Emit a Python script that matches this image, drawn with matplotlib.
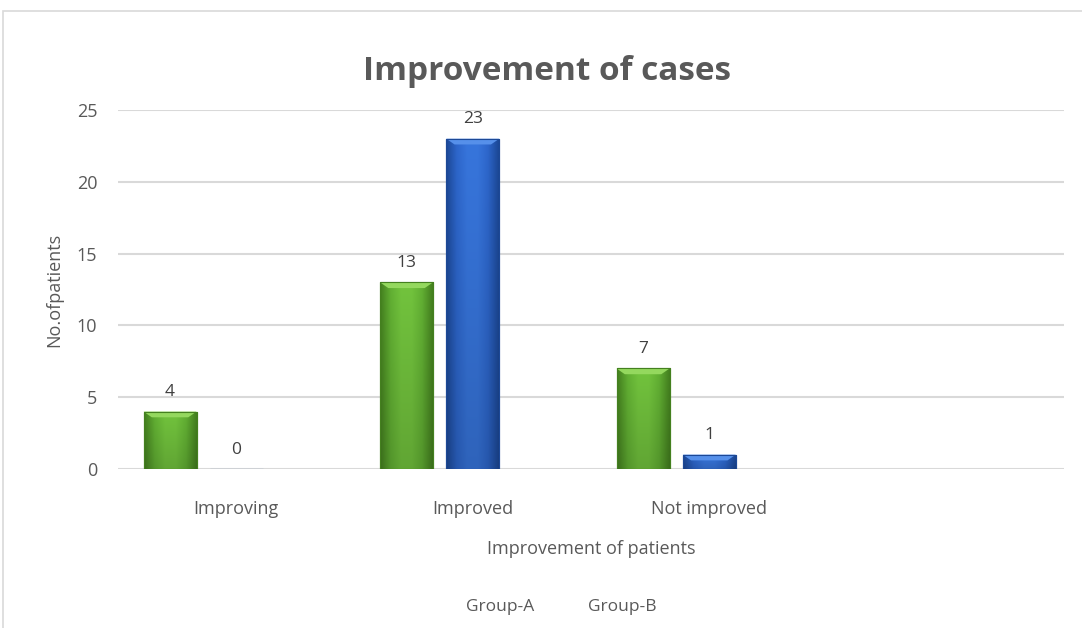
import numpy as np
import matplotlib
matplotlib.use("Agg")
import matplotlib.pyplot as plt
from matplotlib.colors import LinearSegmentedColormap
from matplotlib.patches import Rectangle, Polygon

# data
categories = ["Improving", "Improved", "Not improved", ""]
series_names = ["Group-A", "Group-B"]
group_a = [4, 13, 7]
group_b = [0, 23, 1]

plt.rcParams["font.family"] = ["Open Sans", "DejaVu Sans"]
txt = "#595959"

fig = plt.figure(figsize=(10.82, 6.28), dpi=100)
ax = fig.add_axes([118 / 1082, 1 - 469 / 628, 946 / 1082, 359 / 628])

# light outer frame of the chart area
fig.patches.append(Rectangle((3 / 1082, -0.1), 1.2, 1.1 - 11 / 628, transform=fig.transFigure,
                             fill=False, edgecolor="#d9d9d9", linewidth=1.2))

x = np.arange(len(group_a))
w = 0.224
offs = [-0.28, 0.0]
styles = [
    ("#72c33d", "#62b033", "#44801f", "#94d85e"),   # green: light, mid, dark edge, bevel
    ("#3775dc", "#2d66cb", "#1c4896", "#5690ea"),
]

def fancy_bar(xc, h, st):
    light, mid, dark, bev = st
    x0, x1 = xc - w / 2, xc + w / 2
    bar = ax.bar(xc, h, w, color=mid, edgecolor=dark, linewidth=0.8, zorder=3)[0]
    if h <= 0:
        return
    cmap = LinearSegmentedColormap.from_list("g", [dark, mid, light, light, mid, dark])
    img = cmap(np.tile(np.linspace(0.0, 1.0, 64)[None, :], (64, 1)))
    # slightly darker towards the bottom
    shade = np.linspace(0.85, 1.0, 64)[:, None, None]
    img[..., :3] = np.clip(img[..., :3] * shade, 0, 1)
    im = ax.imshow(img, extent=(x0, x1, 0, h), origin="lower", aspect="auto", zorder=3.1,
                   interpolation="bilinear")
    im.set_clip_path(bar)
    # top bevel
    bh = min(0.4, h * 0.5)
    dx = 0.035
    ax.add_patch(Polygon([(x0, h), (x1, h), (x1 - dx, h - bh), (x0 + dx, h - bh)],
                         closed=True, facecolor=bev, edgecolor="none", zorder=3.2))
    ax.add_patch(Rectangle((x0, 0), w, h, fill=False, edgecolor=dark, linewidth=0.8, zorder=3.3))

for vals, off, st in zip([group_a, group_b], offs, styles):
    for xi, v in zip(x, vals):
        fancy_bar(xi + off, v, st)
        ax.annotate(str(v), (xi + off, v), xytext=(0, 11), textcoords="offset points",
                    ha="center", va="baseline", fontsize=12.5, color="#404040", zorder=4)

ax.set_xlim(-0.5, 3.5)
ax.set_ylim(0, 25)
ax.set_yticks(range(0, 26, 5))
ax.set_xticks(range(len(categories)))
ax.set_xticklabels(categories)
ax.yaxis.grid(True, color="#d9d9d9", linewidth=1.5, zorder=0)
ax.set_axisbelow(True)
for s in ax.spines.values():
    s.set_visible(False)
ax.tick_params(axis="both", length=0, labelsize=13, labelcolor=txt)
ax.tick_params(axis="x", pad=22)
ax.tick_params(axis="y", pad=15)

fig.text(547 / 1082, 1 - 72 / 628, "Improvement of cases", ha="center", va="center",
         fontsize=24, fontweight="bold", color=txt)
ax.set_xlabel("Improvement of patients", fontsize=13, color=txt, labelpad=16)
ax.set_ylabel("No.ofpatients", fontsize=13, color=txt, labelpad=10)

# legend (text only, as in the original)
for name, xp in zip(series_names, [500, 622]):
    fig.text(xp / 1082, 1 - 607 / 628, name, ha="center", va="center", fontsize=12.5, color=txt)

fig.savefig("out.png", dpi=100, facecolor="white")
